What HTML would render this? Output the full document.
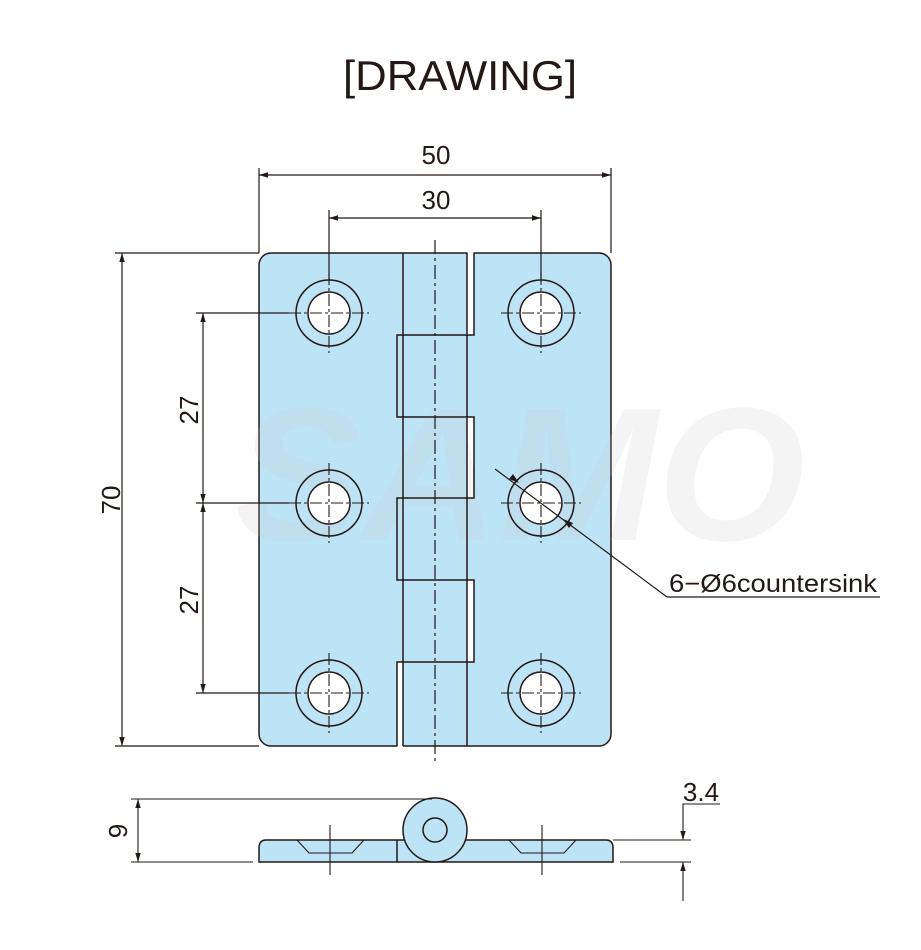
<!DOCTYPE html>
<html><head><meta charset="utf-8"><style>
html,body{margin:0;padding:0;background:#fff;}
svg{display:block;}
text{font-family:"Liberation Sans",sans-serif;fill:#231815;}
</style></head><body>
<svg width="921" height="950" viewBox="0 0 921 950" xmlns="http://www.w3.org/2000/svg">
<defs>
<marker id="a" viewBox="0 0 10 10" refX="10" refY="5" markerWidth="9" markerHeight="9" markerUnits="userSpaceOnUse" orient="auto-start-reverse">
<path d="M0,2 L10,5 L0,8 z" fill="#231815"/></marker>
<g id="h">
<circle cx="0" cy="0" r="33" fill="none"/>
<circle cx="0" cy="0" r="21" fill="#fff"/>
<line x1="-40" y1="0" x2="40" y2="0" stroke-width="1.1" stroke-dasharray="12,3,3,3"/>
<line x1="0" y1="-40" x2="0" y2="40" stroke-width="1.1" stroke-dasharray="12,3,3,3"/>
</g>
</defs>
<text x="460" y="90" font-size="42" text-anchor="middle" textLength="234" lengthAdjust="spacingAndGlyphs">[DRAWING]</text>

<!-- plate -->
<rect x="259" y="253" width="352" height="493" rx="12" fill="#bde3f7" stroke="#231815" stroke-width="1.5"/>
<g fill="#fff">
<rect x="467.5" y="252" width="6" height="83"/>
<rect x="467.5" y="417" width="6" height="81"/>
<rect x="467.5" y="580" width="6" height="82"/>
<rect x="397.5" y="662" width="5.5" height="85"/>
</g>
<!-- watermark -->
<text x="520" y="540" font-size="190" font-style="italic" font-weight="bold" text-anchor="middle" style="fill:#c8c8c8" opacity="0.18">SAMO</text>
<g stroke="#231815" stroke-width="1.5" fill="none">
<line x1="403" y1="253" x2="403" y2="746"/>
<line x1="467" y1="253" x2="467" y2="746"/>
<path d="M474,253 V335 H397 V417 H474 V498 H397 V580 H474 V662 H397 V746"/>
</g>
<line x1="435" y1="240" x2="435" y2="762" stroke="#231815" stroke-width="1.2" stroke-dasharray="14,4,3,4"/>

<g stroke="#231815" stroke-width="1.5">
<use href="#h" x="329" y="313"/><use href="#h" x="329" y="503"/><use href="#h" x="329" y="693"/>
<use href="#h" x="541" y="313"/><use href="#h" x="541" y="503"/><use href="#h" x="541" y="693"/>
</g>

<!-- dimensions -->
<g stroke="#231815" stroke-width="1.2" fill="none">
<line x1="259" y1="168" x2="259" y2="253"/>
<line x1="611" y1="168" x2="611" y2="253"/>
<line x1="259" y1="175" x2="611" y2="175" marker-start="url(#a)" marker-end="url(#a)"/>
<line x1="329" y1="210" x2="329" y2="280"/>
<line x1="541" y1="210" x2="541" y2="280"/>
<line x1="329" y1="218" x2="541" y2="218" marker-start="url(#a)" marker-end="url(#a)"/>
<line x1="115" y1="253" x2="259" y2="253"/>
<line x1="115" y1="746" x2="259" y2="746"/>
<line x1="122" y1="253" x2="122" y2="746" marker-start="url(#a)" marker-end="url(#a)"/>
<line x1="196" y1="313" x2="289" y2="313"/>
<line x1="196" y1="503" x2="289" y2="503"/>
<line x1="196" y1="693" x2="289" y2="693"/>
<line x1="203" y1="313" x2="203" y2="503" marker-start="url(#a)" marker-end="url(#a)"/>
<line x1="203" y1="503" x2="203" y2="693" marker-start="url(#a)" marker-end="url(#a)"/>
<line x1="495" y1="469" x2="667" y2="597"/>
<line x1="667" y1="597" x2="880" y2="597"/>
</g>
<path d="M519,483 l-10,-4 l4,-5z M563,519 l10,4 l-4,5z" fill="#231815"/>
<text x="436" y="164" font-size="26" text-anchor="middle">50</text>
<text x="436" y="209" font-size="26" text-anchor="middle">30</text>
<text transform="translate(120,500) rotate(-90)" font-size="26" text-anchor="middle">70</text>
<text transform="translate(198,410) rotate(-90)" font-size="26" text-anchor="middle">27</text>
<text transform="translate(198,600) rotate(-90)" font-size="26" text-anchor="middle">27</text>
<text x="669" y="592" font-size="25" textLength="208" lengthAdjust="spacingAndGlyphs">6−Ø6countersink</text>

<!-- side view -->
<g stroke="#231815" stroke-width="1.5">
<path d="M266,840 H606 Q613,840 613,848 V862 H259 V848 Q259,840 266,840z" fill="#bde3f7"/>
<circle cx="435" cy="830" r="32" fill="#bde3f7"/>
<line x1="408" y1="840" x2="462" y2="840" stroke="#bde3f7" stroke-width="2"/>
<circle cx="435" cy="830" r="12" fill="#bde3f7"/>
<line x1="397" y1="840" x2="397" y2="862"/>
</g>
<g stroke="#231815" stroke-width="1.1" fill="none">
<path d="M297,840 L309,853 H352 L364,840"/>
<path d="M509,840 L521,853 H564 L576,840"/>
<line x1="330" y1="825" x2="330" y2="875"/>
<line x1="542" y1="825" x2="542" y2="875"/>
<line x1="131" y1="799" x2="432" y2="799"/>
<line x1="131" y1="862" x2="253" y2="862"/>
<line x1="138" y1="799" x2="138" y2="862" marker-start="url(#a)" marker-end="url(#a)"/>
<line x1="613" y1="840" x2="691" y2="840"/>
<line x1="620" y1="862" x2="691" y2="862"/>
<polyline points="720,804 683,804 683,840" marker-end="url(#a)"/>
<line x1="683" y1="901" x2="683" y2="862" marker-end="url(#a)"/>
</g>
<text transform="translate(127,831) rotate(-90)" font-size="26" text-anchor="middle">9</text>
<text x="701" y="801" font-size="26" text-anchor="middle">3.4</text>
</svg>
</body></html>
